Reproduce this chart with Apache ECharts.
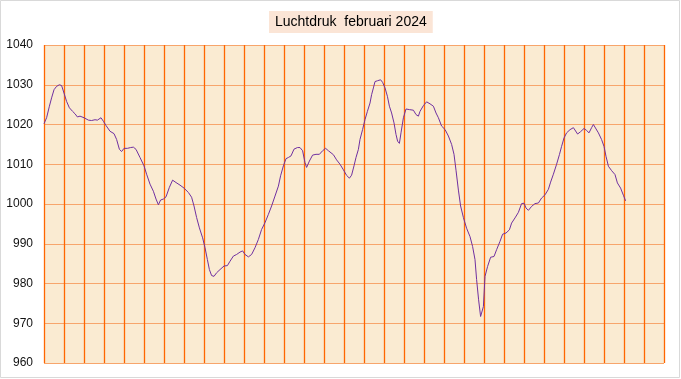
<!DOCTYPE html>
<html>
<head>
<meta charset="utf-8">
<script src="https://cdn.jsdelivr.net/npm/echarts@6/dist/echarts.min.js"></script>
<style>
html,body{margin:0;padding:0;background:#fff;}
#chart{width:681px;height:379px;}
</style>
</head>
<body>
<div id="chart"></div>
<script>
// Day of month (fractional, 0 = 1 Feb 00:00) and air pressure (hPa)
const days = [
  0, 0.13, 0.27, 0.38, 0.5, 0.63, 0.77, 0.88, 1.0, 1.13, 1.27, 1.43, 1.55, 1.67, 1.8,
  2.0, 2.22, 2.38, 2.55, 2.67, 2.85, 2.97, 3.1, 3.3, 3.5, 3.63, 3.77, 3.88, 4.0, 4.17,
  4.33, 4.47, 4.6, 4.8, 5.0, 5.13, 5.3, 5.47, 5.6, 5.72, 5.83, 5.97, 6.1, 6.27, 6.43,
  6.6, 6.8, 7.0, 7.22, 7.38, 7.5, 7.63, 7.77, 7.93, 8.05, 8.17, 8.27, 8.38, 8.5, 8.63,
  8.8, 9.0, 9.17, 9.3, 9.47, 9.63, 9.8, 9.93, 10.05, 10.22, 10.38, 10.55, 10.72, 10.88,
  11.05, 11.22, 11.38, 11.55, 11.72, 11.83, 11.97, 12.1, 12.22, 12.35, 12.5, 12.67, 12.8,
  12.93, 13.05, 13.13, 13.27, 13.43, 13.6, 13.77, 13.93, 14.08, 14.22, 14.47, 14.63, 14.8,
  14.97, 15.13, 15.27, 15.38, 15.5, 15.6, 15.72, 15.8, 15.93, 16.05, 16.17, 16.3, 16.38,
  16.47, 16.55, 16.67, 16.75, 16.83, 16.93, 17.05, 17.17, 17.27, 17.38, 17.5, 17.6, 17.68,
  17.77, 17.85, 17.97, 18.1, 18.27, 18.47, 18.6, 18.72, 18.8, 18.97, 19.13, 19.3, 19.47,
  19.6, 19.72, 19.88, 20.05, 20.22, 20.38, 20.5, 20.6, 20.72, 20.83, 20.97, 21.13, 21.3,
  21.43, 21.55, 21.63, 21.73, 21.83, 21.92, 21.97, 22.05, 22.18, 22.33, 22.5, 22.63, 22.8,
  22.93, 23.1, 23.27, 23.38, 23.55, 23.72, 23.88, 24.0, 24.1, 24.22, 24.38, 24.55, 24.72,
  24.88, 25.05, 25.22, 25.33, 25.47, 25.63, 25.77, 25.88, 26.0, 26.13, 26.3, 26.47, 26.55,
  26.68, 26.83, 27.0, 27.13, 27.25, 27.38, 27.47, 27.55, 27.72, 27.88, 28.0, 28.1, 28.22,
  28.38, 28.55, 28.67, 28.83, 28.97, 29.08
];
const pressure = [
  1020.2, 1021.7, 1024.6, 1026.7, 1028.75, 1029.6, 1030, 1029.8, 1027.9, 1025.8, 1024.2, 1023.3, 1022.7, 1021.9, 1022.1,
  1021.7, 1021.1, 1021.0, 1021.2, 1021.1, 1021.7, 1020.8, 1019.75, 1018.3, 1017.7, 1016.25, 1013.75, 1013.2, 1014, 1014,
  1014.2, 1014.3, 1013.75, 1011.7, 1009.6, 1007.5, 1005, 1003.2, 1001.25, 999.8, 1001, 1001.25, 1001.8, 1004.2, 1006,
  1005.4, 1004.75, 1004, 1002.9, 1001.7, 999.5, 996.6, 994.0, 991.5, 989, 986, 983.5, 982, 981.8, 982.7,
  983.5, 984.4, 984.5, 985.6, 986.9, 987.3, 987.9, 988.2, 987.3, 986.7, 987.3, 989, 991.1, 993.6,
  995.3, 997.4, 999.5, 1002, 1004.5, 1007.1, 1009.6, 1011.4, 1011.7, 1012.1, 1013.8, 1014.2, 1014.2,
  1013.4, 1010.4, 1009.2, 1010.8, 1012.3, 1012.5, 1012.5, 1013.4, 1014, 1013.4, 1012.4, 1011.1, 1010,
  1008.6, 1007.2, 1006.5, 1007.25, 1009.6, 1011.7, 1013.75, 1016.25, 1018.75, 1021.25, 1023.3, 1025.4, 1027.5,
  1029.2, 1030.8, 1031, 1030.8, 1031.25, 1030.6, 1029.2, 1027.1, 1024.6, 1022.9, 1020.4, 1017.5, 1015.8,
  1015.25, 1017.9, 1021.7, 1023.9, 1023.75, 1023.6, 1022.5, 1022.1, 1023.3, 1024.75, 1025.7, 1025.2, 1024.6,
  1022.9, 1021.7, 1019.6, 1018.75, 1017.1, 1015, 1012.5, 1008.5, 1003.5, 999.5, 996.6, 993.9, 991.8,
  989.3, 986, 981, 975.9, 971.7, 971.3, 974.2, 981.8, 984.3, 986.6, 986.8, 988.5, 990.6,
  992.4, 992.7, 993.5, 995.2, 996.5, 997.9, 1000.1, 1000.2, 999, 998.4, 999.4, 1000.1, 1000.25,
  1001.5, 1002.3, 1003.7, 1005.5, 1007.5, 1010, 1012.4, 1014.5, 1016.6, 1017.9, 1018.7, 1019.2, 1018.7,
  1017.6, 1018.2, 1019, 1018.5, 1017.9, 1019.2, 1020, 1019.7, 1017.9, 1016.2, 1014.5, 1012, 1009.5,
  1008.4, 1007.4, 1005.3, 1004, 1002.2, 1000.8
];
const titleText = 'Luchtdruk  februari 2024';
const yMin = 960, yMax = 1040, yStep = 10;
const xMin = 0, xMax = 31, xStep = 1;

const chart = echarts.init(document.getElementById('chart'), null, {renderer: 'canvas'});
const seriesData = days.map((d, i) => [d, pressure[i]]);

chart.setOption({
  animation: false,
  backgroundColor: '#ffffff',
  graphic: [{
    type: 'rect',
    shape: {x: 0.5, y: 0.5, width: 679, height: 377},
    style: {fill: 'none', stroke: '#d9d9d9', lineWidth: 1},
    z: 100, silent: true
  }],
  title: {
    text: titleText,
    left: 269, top: 11,
    padding: [4, 6, 4, 6],
    backgroundColor: '#FBE5D6',
    textStyle: {fontFamily: 'Liberation Sans', fontSize: 14, fontWeight: 'normal', color: '#000000'}
  },
  grid: {left: 44, right: 17, top: 45, bottom: 16, show: true, backgroundColor: '#FAEBD2', borderWidth: 0},
  xAxis: {
    type: 'value', min: xMin, max: xMax, interval: xStep,
    axisLine: {show: false}, axisTick: {show: false}, axisLabel: {show: false},
    splitLine: {show: true, lineStyle: {color: '#FF6600', width: 1.3}}
  },
  yAxis: {
    type: 'value', min: yMin, max: yMax, interval: yStep,
    axisLine: {show: false}, axisTick: {show: false},
    axisLabel: {margin: 11, fontFamily: 'Liberation Sans', fontSize: 12, color: '#111111',
      formatter: v => String(v)},
    splitLine: {show: true, lineStyle: {color: '#F7A56C', width: 1}}
  },
  series: [{
    type: 'line', data: seriesData, showSymbol: false, symbol: 'none',
    lineStyle: {color: '#7030A0', width: 1}, z: 5
  }]
});
</script>
</body>
</html>
